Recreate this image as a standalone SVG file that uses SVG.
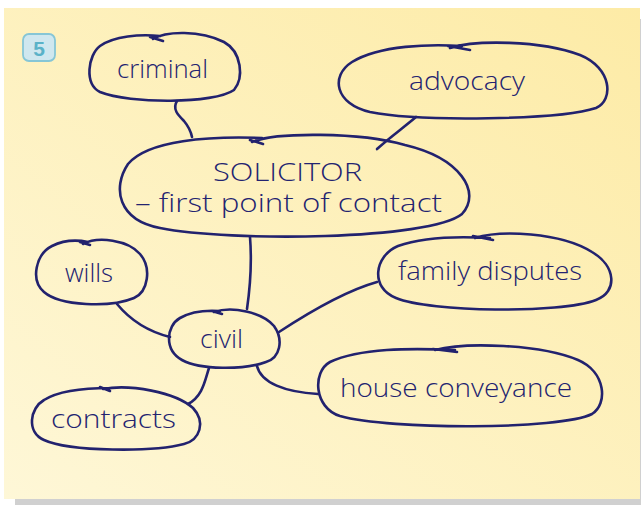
<svg xmlns="http://www.w3.org/2000/svg" width="641" height="505" viewBox="0 0 641 505">
  <defs>
    <linearGradient id="paper" x1="0" y1="1" x2="1" y2="0">
      <stop offset="0" stop-color="#fef7d7"/>
      <stop offset="1" stop-color="#fdeba6"/>
    </linearGradient>
    <style>
      .bubble { fill: none; stroke: #22226e; stroke-width: 2.6; stroke-linecap: round; stroke-linejoin: round; }
      .link { fill: none; stroke: #22226e; stroke-width: 2.6; stroke-linecap: round; }
      .label { font-family: "Open Sans", "Liberation Sans", sans-serif; font-weight: 300; fill: #232370; font-size: 25px; }
    </style>
  </defs>

  <rect x="0" y="0" width="641" height="505" fill="#ffffff"/>
  <!-- page shadow and paper -->
  <rect x="15" y="19" width="626" height="486" fill="#d0d0d0"/>
  <rect x="4" y="8" width="636" height="491" fill="url(#paper)"/>

  <!-- number badge -->
  <g id="badge">
    <rect x="23" y="34" width="32" height="27" rx="6" fill="#cfe7ef" stroke="#86c6d6" stroke-width="1.8"/>
    <text x="39" y="55.5" text-anchor="middle" font-family="Liberation Sans, sans-serif" font-weight="bold" font-size="21" fill="#5ab2c8">5</text>
  </g>

  <!-- connectors -->
  <g id="connectors">
    <path class="link" d="M177,101 C172,109 178,115 184,121 C189,127 191,132 192,137"/>
    <path class="link" d="M416,117 C403,128 389,138 377,149"/>
    <path class="link" d="M250,237 C252,262 250,288 247,309"/>
    <path class="link" d="M117,304 C131,321 150,332 170,337"/>
    <path class="link" d="M279,332 C311,311 345,291 377,282"/>
    <path class="link" d="M257,366 C261,383 285,392 318,394"/>
    <path class="link" d="M209,368 C205,380 203,396 188,404"/>
  </g>

  <!-- nodes -->
  <g id="criminal">
    <path class="bubble" d="M153,39 C166,31 200,30 224,42 C242,52 244,78 234,90 C214,104 130,104 100,92 C84,84 88,55 100,46 C114,36 140,34 160,36 M150,37 L163,41"/>
    <text class="label" x="117" y="78" textLength="91" lengthAdjust="spacingAndGlyphs">criminal</text>
  </g>

  <g id="advocacy">
    <path class="bubble" d="M450,48 C475,40 540,40 580,55 C612,68 614,100 596,108 C560,120 420,122 370,112 C335,104 330,76 352,62 C380,45 430,44 462,46 M448,46 L470,50"/>
    <text class="label" x="409" y="90" textLength="116" lengthAdjust="spacingAndGlyphs">advocacy</text>
  </g>

  <g id="solicitor">
    <path class="bubble" d="M252,142 C275,132 360,132 405,145 C460,158 482,192 462,214 C430,240 230,242 160,228 C118,220 112,188 128,164 C148,140 210,136 262,138 M250,140 L263,144"/>
    <text class="label" x="213" y="181" textLength="149" lengthAdjust="spacingAndGlyphs" font-size="22">SOLICITOR</text>
    <text class="label" x="135" y="212" textLength="307" lengthAdjust="spacingAndGlyphs" font-size="22">– first point of contact</text>
  </g>

  <g id="wills">
    <path class="bubble" d="M83,244 C98,236 128,240 140,254 C152,268 148,292 134,298 C110,308 60,306 44,292 C30,280 36,254 52,246 C64,240 78,240 88,242 M80,242 L90,245"/>
    <text class="label" x="65" y="282" textLength="48" lengthAdjust="spacingAndGlyphs">wills</text>
  </g>

  <g id="civil">
    <path class="bubble" d="M214,312 C232,306 262,312 274,326 C284,340 280,358 266,362 C244,370 200,370 182,360 C164,350 166,326 180,318 C192,311 206,310 220,311 M212,311 L222,314"/>
    <text class="label" x="200" y="348" textLength="43" lengthAdjust="spacingAndGlyphs">civil</text>
  </g>

  <g id="family">
    <path class="bubble" d="M475,238 C500,230 560,232 592,252 C616,266 618,292 596,300 C560,314 430,312 396,298 C370,288 374,256 398,246 C420,238 455,236 490,238 M473,236 L493,240"/>
    <text class="label" x="398" y="280" textLength="184" lengthAdjust="spacingAndGlyphs">family disputes</text>
  </g>

  <g id="house">
    <path class="bubble" d="M435,350 C465,342 540,344 578,360 C606,372 608,404 592,414 C560,430 390,430 340,416 C314,408 312,372 330,362 C360,348 410,348 455,350 M433,349 L457,352"/>
    <text class="label" x="340" y="397" textLength="232" lengthAdjust="spacingAndGlyphs">house conveyance</text>
  </g>

  <g id="contracts">
    <path class="bubble" d="M103,389 C130,384 175,392 193,408 C206,422 200,440 184,444 C154,452 70,452 44,440 C26,432 30,408 44,400 C60,390 85,388 110,388 M100,387 L110,391"/>
    <text class="label" x="51" y="428" textLength="125" lengthAdjust="spacingAndGlyphs">contracts</text>
  </g>
</svg>
